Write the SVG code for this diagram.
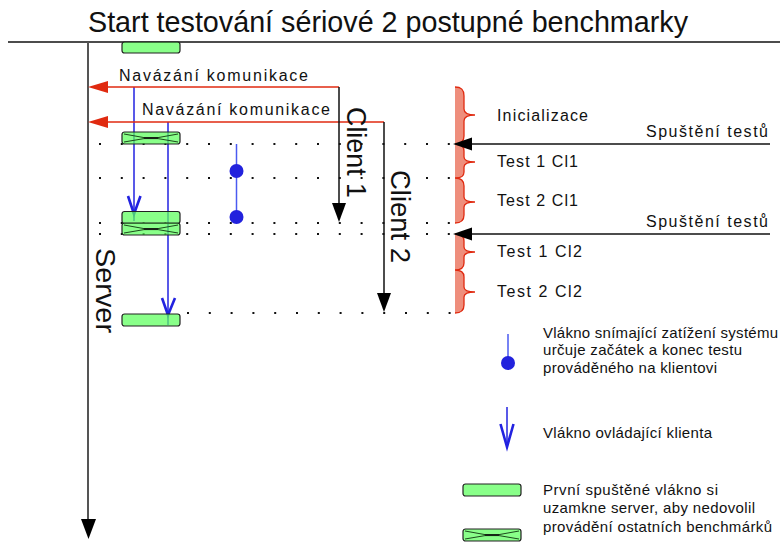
<svg xmlns="http://www.w3.org/2000/svg" xmlns:xlink="http://www.w3.org/1999/xlink" width="784" height="542" viewBox="0 0 784 542">
<style>
text{font-family:"Liberation Sans",Arial,sans-serif;fill:#111}
.lbl{font-size:16px}
.leg{font-size:15px}
.big{font-size:28px}
.dots{stroke:#111;stroke-width:2;stroke-dasharray:2 19.8;fill:none}
.red{stroke:#e02a10;stroke-width:1.5;fill:none}
.blk{stroke:#111;stroke-width:1.5;fill:none}
.blue{stroke:#2222e0;stroke-width:1.5;fill:none}
.vee{stroke:#2222e0;stroke-width:2.6;fill:none;stroke-linejoin:miter}
.box{fill:#5cff5c;fill-opacity:0.72;stroke:#222;stroke-width:1.2}
.xl{stroke:#1c4a1c;stroke-width:1;fill:none}
.brace{fill:#ee8e7c;stroke:none}
.bline{stroke:#e02a10;stroke-width:1.3;fill:none}
</style>
<defs>
<g id="pbox"><rect class="box" x="0" y="0" width="58" height="12" rx="2.5"/></g>
<g id="xbox"><rect class="box" x="0" y="0" width="58" height="12" rx="2.5"/>
<path class="xl" d="M2,2 L22,5.6 L36,5.6 L56,2 M2,10 L22,6.6 L36,6.6 L56,10"/>
<path d="M22,6 L36,6" stroke="#111" stroke-width="1.4"/></g>
</defs>

<text x="88" y="32" font-size="30" textLength="600" lengthAdjust="spacingAndGlyphs">Start testování sériové 2 postupné benchmarky</text>
<line x1="8" y1="42" x2="780" y2="42" stroke="#111" stroke-width="1.5"/>

<g id="dotted-rows">
<line class="dots" x1="99" y1="144" x2="457" y2="144"/>
<line class="dots" x1="99" y1="178" x2="457" y2="178"/>
<line class="dots" x1="99" y1="223" x2="457" y2="223"/>
<line class="dots" x1="99" y1="234" x2="457" y2="234"/>
<line class="dots" x1="187" y1="313" x2="457" y2="313"/>
</g>

<g id="phases">
<path class="brace" d="M455,87 C462,87 464,90 464,96 L464,109 C464,113 468,115 475,115 C468,115 464,117 464,121 L464,136 C464,141 462,144 455,144 C462,144 464,147 464,151 L464,157 C464,160 468,162 475,162 C468,162 464,164 464,167 L464,172 C464,176 462,178 455,178 C462,178 464,181 464,186 L464,197 C464,200 468,202 475,202 C468,202 464,204 464,207 L464,215 C464,220 462,223 455,223 Z"/>
<path class="bline" d="M455,87 C462,87 464,90 464,96 L464,109 C464,113 468,115 475,115 C468,115 464,117 464,121 L464,136 C464,141 462,144 455,144 C462,144 464,147 464,151 L464,157 C464,160 468,162 475,162 C468,162 464,164 464,167 L464,172 C464,176 462,178 455,178 C462,178 464,181 464,186 L464,197 C464,200 468,202 475,202 C468,202 464,204 464,207 L464,215 C464,220 462,223 455,223"/>
<path class="brace" d="M455,234 C462,234 464,237 464,241 L464,247 C464,250 468,252 475,252 C468,252 464,254 464,257 L464,263 C464,267 462,270 455,270 C462,270 464,273 464,277 L464,287 C464,290 468,292 475,292 C468,292 464,294 464,297 L464,305 C464,310 462,313 455,313 Z"/>
<path class="bline" d="M455,234 C462,234 464,237 464,241 L464,247 C464,250 468,252 475,252 C468,252 464,254 464,257 L464,263 C464,267 462,270 455,270 C462,270 464,273 464,277 L464,287 C464,290 468,292 475,292 C468,292 464,294 464,297 L464,305 C464,310 462,313 455,313"/>
<text class="lbl" x="497" y="121" textLength="91">Inicializace</text>
<text class="lbl" x="497" y="167" textLength="81">Test 1 Cl1</text>
<text class="lbl" x="497" y="206" textLength="81">Test 2 Cl1</text>
<text class="lbl" x="497" y="257" textLength="85">Test 1 Cl2</text>
<text class="lbl" x="497" y="297" textLength="85">Test 2 Cl2</text>
</g>

<g id="server">
<line x1="88" y1="42" x2="88" y2="521" stroke="#555" stroke-width="2"/>
<polygon points="81,519 96,519 88.5,539" fill="#000"/>
<text class="big" transform="translate(96,248) rotate(90)" font-size="30" textLength="85" lengthAdjust="spacingAndGlyphs">Server</text>
</g>

<g id="threads">
<line class="blue" x1="134" y1="87" x2="134" y2="221"/>
<path class="vee" d="M128,196 L134,214 L140.5,196"/>
<line class="blue" x1="168" y1="122" x2="168" y2="325"/>
<path class="vee" d="M162,298 L168,315 L175,298"/>
<line x1="236.5" y1="144" x2="236.5" y2="217" stroke="#4a5af0" stroke-width="1.5"/>
<circle cx="236.5" cy="171" r="7" fill="#2222dd"/>
<circle cx="236.5" cy="217" r="7" fill="#2222dd"/>
</g>

<g id="locks">
<rect class="box" x="122" y="42" width="58" height="11" rx="2.5"/>
<use xlink:href="#xbox" href="#xbox" x="122" y="132"/>
<use xlink:href="#pbox" href="#pbox" x="122" y="211.5"/>
<use xlink:href="#xbox" href="#xbox" x="122" y="223"/>
<use xlink:href="#pbox" href="#pbox" x="122" y="314"/>
</g>

<g id="connectors">
<path class="red" d="M106,87 L339,87"/>
<polygon points="88,87 108,81 108,93" fill="#e02a10"/>
<text class="lbl" x="119" y="81" textLength="189">Navázání komunikace</text>
<path class="red" d="M106,122 L384,122"/>
<polygon points="88,122 108,116 108,128" fill="#e02a10"/>
<text class="lbl" x="142" y="115" textLength="188">Navázání komunikace</text>

<line class="blk" x1="339" y1="87" x2="339" y2="205"/>
<polygon points="332,203 346,203 339,222" fill="#000"/>
<line class="blk" x1="384" y1="122" x2="384" y2="295"/>
<polygon points="377,293 391,293 384,312" fill="#000"/>

<line class="blk" x1="470" y1="144" x2="770" y2="144"/>
<polygon points="453,144 472,137.5 472,150.5" fill="#000"/>
<text class="lbl" x="646" y="137" textLength="122">Spuštění testů</text>
<line class="blk" x1="470" y1="234" x2="770" y2="234"/>
<polygon points="453,234 472,227.5 472,240.5" fill="#000"/>
<text class="lbl" x="646" y="227" textLength="122">Spuštění testů</text>
</g>

<g id="client1">
<text class="big" transform="translate(347,107) rotate(90)" textLength="91" lengthAdjust="spacingAndGlyphs">Client 1</text>
</g>
<g id="client2">
<text class="big" transform="translate(391,170) rotate(90)" textLength="93" lengthAdjust="spacingAndGlyphs">Client 2</text>
</g>

<g id="legend">
<line x1="508" y1="334" x2="508" y2="360" stroke="#4a5af0" stroke-width="1.5"/>
<circle cx="508" cy="363" r="7" fill="#2222dd"/>
<text class="leg" x="543" y="338" textLength="235">Vlákno snímající zatížení systému</text>
<text class="leg" x="543" y="355" textLength="199">určuje začátek a konec testu</text>
<text class="leg" x="543" y="373" textLength="174">prováděného na klientovi</text>

<line class="blue" x1="507" y1="407" x2="507" y2="446"/>
<path class="vee" d="M500.5,424 L507,447 L513.5,424"/>
<text class="leg" x="543" y="438" textLength="169">Vlákno ovládající klienta</text>

<use xlink:href="#pbox" href="#pbox" x="463" y="484"/>
<use xlink:href="#xbox" href="#xbox" x="463" y="529"/>
<text class="leg" x="543" y="495" textLength="175">První spuštěné vlákno si</text>
<text class="leg" x="543" y="513" textLength="212">uzamkne server, aby nedovolil</text>
<text class="leg" x="543" y="532" textLength="229">provádění ostatních benchmárků</text>
</g>
</svg>
